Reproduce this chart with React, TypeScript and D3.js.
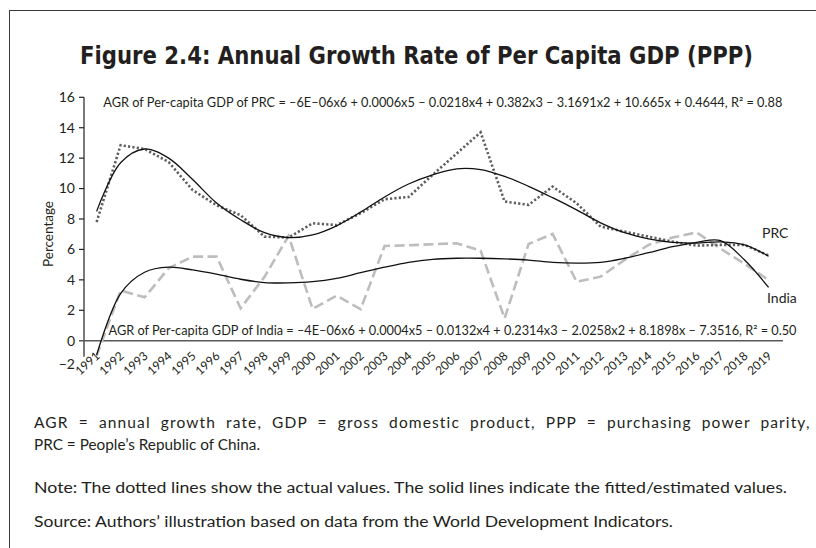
import React from 'react';
import * as d3 from 'd3';

const years = ['1991','1992','1993','1994','1995','1996','1997','1998','1999','2000','2001','2002','2003','2004','2005','2006','2007','2008','2009','2010','2011','2012','2013','2014','2015','2016','2017','2018','2019'];

const prcActual = [7.8, 12.85, 12.6, 11.75, 9.9, 8.9, 8.25, 6.84, 6.78, 7.72, 7.6, 8.38, 9.3, 9.45, 10.9, 12.3, 13.7, 9.15, 8.93, 10.13, 9.04, 7.5, 7.17, 6.84, 6.51, 6.25, 6.3, 6.3, 5.6];
const prcFitted = [8.5, 11.7, 12.6, 12.0, 10.6, 9.05, 7.95, 7.1, 6.78, 6.95, 7.55, 8.45, 9.45, 10.3, 10.9, 11.3, 11.25, 10.8, 10.15, 9.4, 8.6, 7.75, 7.1, 6.7, 6.47, 6.42, 6.5, 6.3, 5.55];
const indiaActual = [-1.0, 3.3, 2.85, 4.76, 5.53, 5.53, 2.13, 4.21, 6.89, 2.09, 2.96, 2.07, 6.23, 6.27, 6.34, 6.4, 5.92, 1.47, 6.36, 7.02, 3.88, 4.21, 5.31, 6.3, 6.78, 7.12, 6.05, 5.05, 3.99];
const indiaFitted = [-0.95, 3.1, 4.5, 4.83, 4.65, 4.37, 4.04, 3.82, 3.8, 3.88, 4.1, 4.47, 4.83, 5.15, 5.35, 5.42, 5.42, 5.38, 5.3, 5.15, 5.1, 5.15, 5.42, 5.79, 6.18, 6.47, 6.58, 5.3, 3.5];

const yTicks = [0, 2, 4, 6, 8, 10, 12, 14, 16];

const title = 'Figure 2.4: Annual Growth Rate of Per Capita GDP (PPP)';
const prcEquation = 'AGR of Per-capita GDP of PRC = \u20136E\u201306x6 + 0.0006x5 \u2013 0.0218x4 + 0.382x3 \u2013 3.1691x2 + 10.665x + 0.4644, R\u00B2 = 0.88';
const indiaEquation = 'AGR of Per-capita GDP of India = \u20134E\u201306x6 + 0.0004x5 \u2013 0.0132x4 + 0.2314x3 \u2013 2.0258x2 + 8.1898x \u2013 7.3516, R\u00B2 = 0.50';
const notes = [
  'AGR = annual growth rate, GDP = gross domestic product, PPP = purchasing power parity,',
  'PRC = People\u2019s Republic of China.',
  'Note: The dotted lines show the actual values. The solid lines indicate the fitted/estimated values.',
  'Source: Authors\u2019 illustration based on data from the World Development Indicators.',
];

const W = 816;
const H = 548;
const TXT = '#231f20';
const FONT = 'Lato, "Open Sans", sans-serif';
const NOTE_SIZE = 15.5;

function measure(text: string, font: string): number {
  try {
    const c = document.createElement('canvas');
    const ctx = c.getContext('2d');
    if (!ctx) return 0;
    ctx.font = font;
    return ctx.measureText(text).width;
  } catch (e) {
    return 0;
  }
}

export default function App() {
  const x = d3.scalePoint<string>().domain(years).range([96.6, 768.6]);
  const y = d3.scaleLinear().domain([0, 16]).range([340.7, 97.3]);

  const straight = d3.line<number>().x((_, i) => x(years[i]) as number).y((d) => y(d));
  const smooth = d3.line<number>().x((_, i) => x(years[i]) as number).y((d) => y(d)).curve(d3.curveCatmullRom.alpha(0.5));

  const axisLeft = 84;
  const axisRight = 783;

  const noteLayout = [
    { y: 428, len: 778 },
    { y: 450, len: 226 },
    { y: 493, len: 753 },
    { y: 527, len: 639 },
  ];

  // justify first footnote line: stretch word spaces moderately, rest via letter spacing
  const natural = measure(notes[0], `${NOTE_SIZE}px Lato`);
  const spaces = notes[0].split(' ').length - 1;
  const extra = Math.max(0, noteLayout[0].len - natural);
  const wordSpacing = natural > 0 ? Math.min(extra / spaces, 5) : 0;
  const letterSpacing = natural > 0 ? (extra - wordSpacing * spaces) / notes[0].length : 0;

  return (
    <svg width={W} height={H} style={{ position: 'absolute', left: 0, top: 0, background: '#fff' }} fontFamily={FONT}>
      <rect x={0} y={0} width={W} height={H} fill="#fff" />
      <rect x={9.5} y={10.5} width={W + 40} height={H + 40} fill="none" stroke="#3a3a3a" strokeWidth={1} />

      <text x={416.5} y={64} textAnchor="middle" fontFamily='"DejaVu Sans Condensed", "Liberation Sans Narrow", Roboto, sans-serif' fontWeight="bold" fontSize={25.5} fill={TXT} textLength={673} lengthAdjust="spacingAndGlyphs">{title}</text>

      {/* y axis */}
      <line x1={axisLeft} x2={axisLeft} y1={y(16)} y2={y(0) + 16} stroke="#222" strokeWidth={1.2} />
      {yTicks.map((t) => (
        <g key={t}>
          {t !== 0 && <line x1={axisLeft - 5} x2={axisLeft} y1={y(t)} y2={y(t)} stroke="#222" strokeWidth={1.2} />}
          <text x={75} y={y(t)} dy="0.35em" textAnchor="end" fontSize={14} fill={TXT}>{t}</text>
        </g>
      ))}
      <text x={75} y={y(0) + 23} dy="0.35em" textAnchor="end" fontSize={14} fill={TXT}>{'\u22122'}</text>
      <text transform={`translate(48,234) rotate(-90)`} textAnchor="middle" dy="0.35em" fontSize={13.5} fill={TXT}>Percentage</text>

      {/* x axis */}
      <line x1={axisLeft - 5} x2={axisRight} y1={y(0)} y2={y(0)} stroke="#595959" strokeWidth={1.6} />
      {years.map((yr) => (
        <text key={yr} transform={`translate(${(x(yr) as number) + 4},357) rotate(-42)`} textAnchor="end" fontSize={12} fill={TXT}>{yr}</text>
      ))}

      {/* series */}
      <path d={straight(indiaActual) || ''} fill="none" stroke="#bdbdbd" strokeWidth={2.6} strokeDasharray="10 4.5" />
      <path d={straight(prcActual) || ''} fill="none" stroke="#5e5e5e" strokeWidth={2.6} strokeDasharray="2.2 2.2" />
      <path d={smooth(prcFitted) || ''} fill="none" stroke="#111" strokeWidth={1.3} />
      <path d={smooth(indiaFitted) || ''} fill="none" stroke="#111" strokeWidth={1.3} />

      {/* equations */}
      <text x={103.3} y={107.3} fontSize={13} fill={TXT} textLength={679} lengthAdjust="spacingAndGlyphs">{prcEquation}</text>
      <text x={108.5} y={335} fontSize={13} fill={TXT} textLength={688} lengthAdjust="spacingAndGlyphs">{indiaEquation}</text>

      {/* series labels */}
      <text x={762} y={238} fontSize={14} fill={TXT}>PRC</text>
      <text x={767} y={303} fontSize={14} fill={TXT}>India</text>

      {/* notes */}
      {notes.map((n, i) =>
        i === 0 && natural > 0 ? (
          <text key={i} x={34} y={noteLayout[i].y} fontSize={NOTE_SIZE} fill={TXT} fontFamily="Lato" style={{ wordSpacing: `${wordSpacing}px`, letterSpacing: `${letterSpacing}px` }}>{n}</text>
        ) : (
          <text key={i} x={34} y={noteLayout[i].y} fontSize={NOTE_SIZE} fill={TXT} textLength={noteLayout[i].len} lengthAdjust="spacingAndGlyphs">{n}</text>
        )
      )}
    </svg>
  );
}
